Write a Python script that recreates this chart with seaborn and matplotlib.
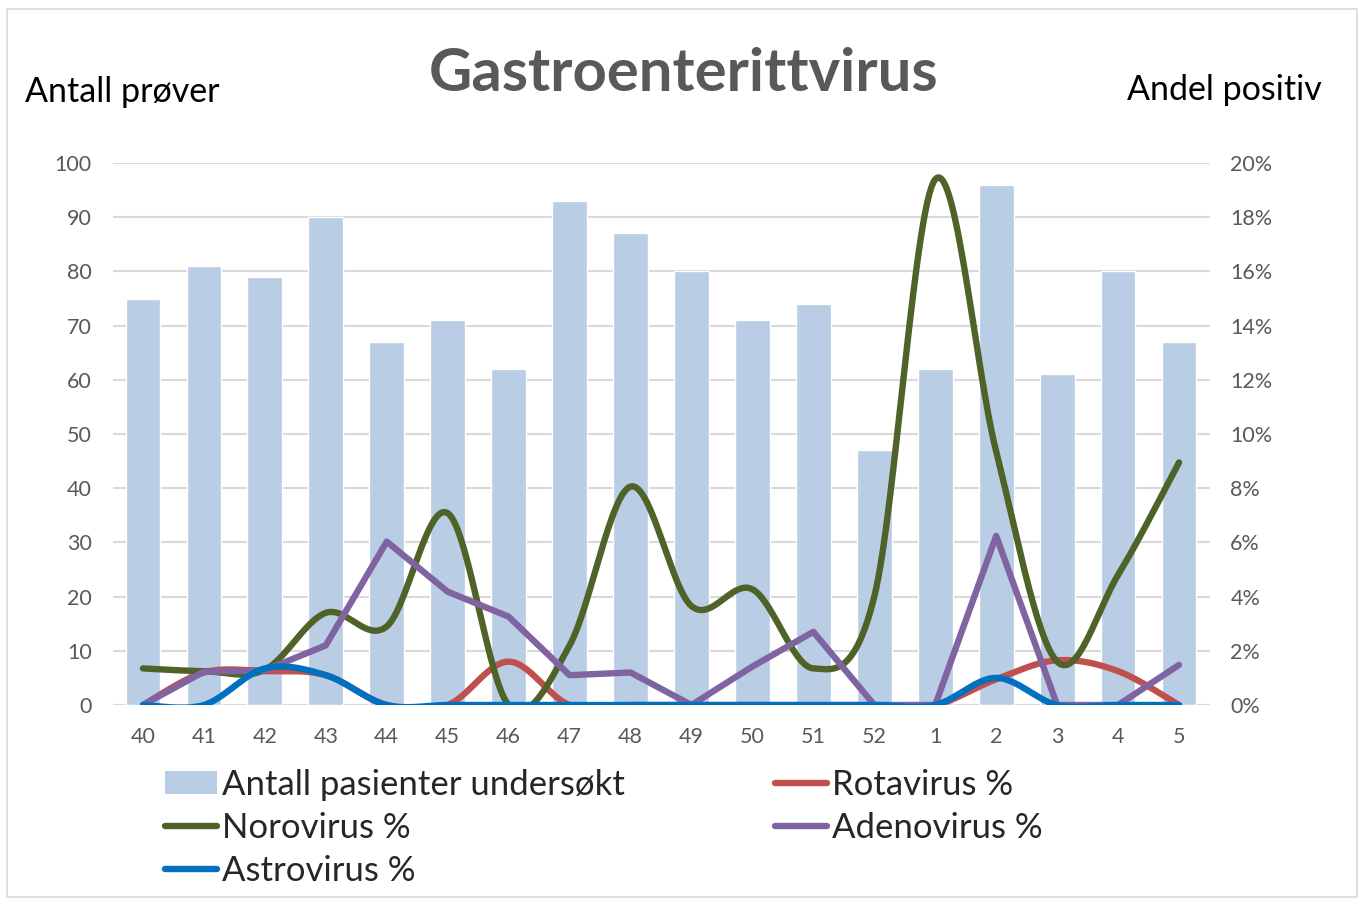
import numpy as np
import pandas as pd
import matplotlib
matplotlib.use("Agg")
import matplotlib.pyplot as plt
import seaborn as sns
from matplotlib.patches import Patch, Rectangle
from matplotlib.lines import Line2D
from matplotlib.ticker import FuncFormatter

# ---- data ----
weeks = ["40", "41", "42", "43", "44", "45", "46", "47", "48", "49", "50", "51", "52", "1", "2", "3", "4", "5"]
antall = [75, 81, 79, 90, 67, 71, 62, 93, 87, 80, 71, 74, 47, 62, 96, 61, 80, 67]
rotavirus = [0.0, 1.2, 1.25, 1.1, 0.0, 0.0, 1.6, 0.0, 0.0, 0.0, 0.0, 0.0, 0.0, 0.0, 0.95, 1.65, 1.25, 0.0]
norovirus = [1.35, 1.25, 1.3, 3.4, 2.9, 7.08, 0.0, 2.2, 8.06, 3.65, 4.27, 1.35, 4.0, 19.4, 9.35, 1.6, 4.8, 8.95]
adenovirus = [0.0, 1.23, 1.28, 2.2, 6.03, 4.18, 3.26, 1.1, 1.2, 0.0, 1.42, 2.7, 0.0, 0.0, 6.24, 0.0, 0.0, 1.48]
astrovirus = [0.0, 0.0, 1.35, 1.1, 0.0, 0.0, 0.0, 0.0, 0.0, 0.0, 0.0, 0.0, 0.0, 0.0, 1.0, 0.0, 0.0, 0.0]

FONT = "Lato"
GRAY = "#595959"
BAR = "#B9CDE5"
C_ROTA = "#C0504D"
C_NORO = "#4F6228"
C_ADENO = "#8064A2"
C_ASTRO = "#0070C0"


def smooth(values, n=30):
    """Excel-like smoothed line (Catmull-Rom Bezier) drawn through the data points."""
    y = np.asarray(values, dtype=float)
    x = np.arange(len(y), dtype=float)
    xs, ys = [], []
    m = len(y)
    for i in range(m - 1):
        p0 = max(i - 1, 0)
        p3 = min(i + 2, m - 1)
        bx1 = x[i] + (x[i + 1] - x[p0]) / 6
        by1 = y[i] + (y[i + 1] - y[p0]) / 6
        bx2 = x[i + 1] - (x[p3] - x[i]) / 6
        by2 = y[i + 1] - (y[p3] - y[i]) / 6
        t = np.linspace(0, 1, n, endpoint=(i == m - 2))
        a = (1 - t) ** 3
        b = 3 * (1 - t) ** 2 * t
        c = 3 * (1 - t) * t ** 2
        d = t ** 3
        xs.append(a * x[i] + b * bx1 + c * bx2 + d * x[i + 1])
        ys.append(a * y[i] + b * by1 + c * by2 + d * y[i + 1])
    return np.concatenate(xs), np.concatenate(ys)


sns.set_theme(style="white")
plt.rcParams["font.family"] = [FONT, "DejaVu Sans"]

W, H = 1360, 899
fig = plt.figure(figsize=(W / 100, H / 100), dpi=100)
fig.patch.set_facecolor("white")

left = 112.5 / W
right = 1209.5 / W
bottom = 1 - 705 / H
top = 1 - 163 / H
ax = fig.add_axes([left, bottom, right - left, top - bottom])

df = pd.DataFrame({"week": weeks, "antall": antall})
sns.barplot(data=df, x="week", y="antall", order=weeks, color=BAR, saturation=1,
            width=0.57, ax=ax, zorder=2)
ax.set_xlim(-0.5, len(weeks) - 0.5)
ax.set_ylim(0, 100)
ax.set_yticks(range(0, 101, 10))
ax.grid(axis="y", color="#D9D9D9", linewidth=1.5, zorder=0)
ax.set_axisbelow(True)
ax.set_xlabel("")
ax.set_ylabel("")
for s in ax.spines.values():
    s.set_visible(False)
ax.tick_params(axis="both", length=0, labelsize=15.5, labelcolor=GRAY)
ax.tick_params(axis="y", pad=15)
ax.tick_params(axis="x", pad=16)

ax2 = ax.twinx()
ax2.set_ylim(0, 20)
ax2.set_yticks(range(0, 21, 2))
ax2.yaxis.set_major_formatter(FuncFormatter(lambda v, p: f"{int(v)}%"))
for s in ax2.spines.values():
    s.set_visible(False)
ax2.tick_params(axis="y", length=0, labelsize=15.5, labelcolor=GRAY, pad=15)
ax2.grid(False)

lw = 4.6
xr, yr = smooth(rotavirus)
sns.lineplot(x=xr, y=yr, ax=ax2, color=C_ROTA, linewidth=lw, sort=False, zorder=3)
xn, yn = smooth(norovirus)
sns.lineplot(x=xn, y=yn, ax=ax2, color=C_NORO, linewidth=lw, sort=False, zorder=4)
sns.lineplot(x=np.arange(len(adenovirus)), y=adenovirus, ax=ax2, color=C_ADENO,
             linewidth=lw, sort=False, zorder=5)
xa, ya = smooth(astrovirus)
sns.lineplot(x=xa, y=ya, ax=ax2, color=C_ASTRO, linewidth=lw, sort=False, zorder=6)
for ln in ax2.get_lines():
    ln.set_solid_capstyle("round")
    ln.set_solid_joinstyle("round")
ax2.set_ylabel("")
ax2.set_xlim(-0.5, len(weeks) - 0.5)
ax2.set_ylim(0, 20)

# titles
fig.text(684 / W, 1 - 74 / H, "Gastroenterittvirus", ha="center", va="center",
         fontsize=43, fontweight="bold", color=GRAY)
fig.text(25 / W, 1 - 92 / H, "Antall prøver", ha="left", va="center", fontsize=24.5, color="black")
fig.text(1322 / W, 1 - 90 / H, "Andel positiv", ha="right", va="center", fontsize=24.5, color="black")

# legends
fs = 25
h_bar = Patch(facecolor=BAR, edgecolor="none", label="Antall pasienter undersøkt")
h_rota = Line2D([], [], color=C_ROTA, lw=lw, label="Rotavirus %")
h_noro = Line2D([], [], color=C_NORO, lw=lw, label="Norovirus %")
h_adeno = Line2D([], [], color=C_ADENO, lw=lw, label="Adenovirus %")
h_astro = Line2D([], [], color=C_ASTRO, lw=lw, label="Astrovirus %")
common = dict(loc="upper left", frameon=False, fontsize=fs, handlelength=1.5,
              handleheight=0.65, handletextpad=0.15, labelspacing=0.32, borderpad=0,
              borderaxespad=0)
fig.legend(handles=[h_bar, h_noro, h_astro], bbox_to_anchor=(165 / W, 1 - 769 / H), **common)
fig.legend(handles=[h_rota, h_adeno], bbox_to_anchor=(775 / W, 1 - 769 / H), **common)

# outer border
fig.patches.append(Rectangle((7 / W, 2 / H), 1350 / W, 888 / H, transform=fig.transFigure,
                             fill=False, edgecolor="#D9D9D9", linewidth=1.2))

fig.savefig("out.png", dpi=100, facecolor="white")
